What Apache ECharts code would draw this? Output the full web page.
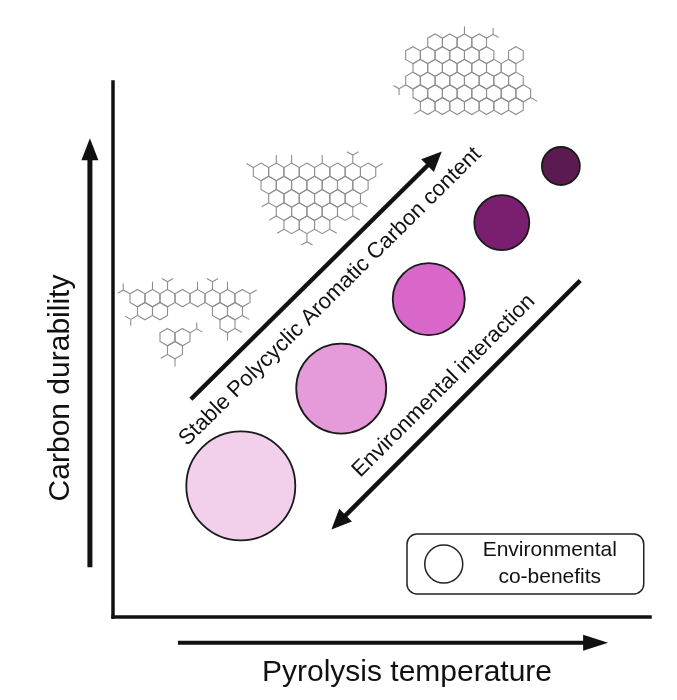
<!DOCTYPE html>
<html><head><meta charset="utf-8">
<script src="https://cdn.jsdelivr.net/npm/echarts@6/dist/echarts.min.js"></script>
<style>html,body{margin:0;padding:0;background:#fff}#c{width:677px;height:700px}</style>
</head><body><div id="c"></div>
<script>
// ---- data (relative units: pyrolysis temperature 0-100, carbon durability 0-100) ----
const stageNames = ['Low', 'Low-mid', 'Mid', 'Mid-high', 'High'];
const stageTemperature = [23.8, 42.5, 58.8, 72.4, 83.4];
const stageDurability = [24.5, 42.7, 59.4, 73.7, 84.3];
const stageCoBenefits = [109, 90, 72, 55, 38];
const pacArrow = [[14.5, 40.7], [59.9, 85.7]];
const envArrow = [[87.0, 62.9], [42.0, 17.7]];
const xAxisArrow = [[12.1, -4.8], [92.2, -4.8]];
const yAxisArrow = [[-4.3, 9.3], [-4.3, 89.5]];
const moleculeAnchors = [[4.56, 59.6], [27.56, 83.2], [54.5, 107.4]];
// rings as [column (half-ring steps), row]
const moleculeA = [[0,0],[2,0],[4,0],[6,0],[8,0],[10,0],[12,0],[14,0],[1,1],[3,1],[11,1],[13,1],[12,2],[4,3],[6,3],[5,4]];
const moleculeB = [[0,0],[2,0],[4,0],[6,0],[8,0],[10,0],[12,0],[14,0],
  [1,1],[3,1],[5,1],[7,1],[9,1],[11,1],[13,1],
  [2,2],[4,2],[6,2],[8,2],[10,2],[12,2],
  [3,3],[5,3],[7,3],[9,3],[11,3],
  [4,4],[6,4],[8,4]];
const moleculeC = [[4,0],[6,0],[8,0],[10,0],
  [1,1],[3,1],[5,1],[7,1],[9,1],[11,1],[15,1],
  [2,2],[4,2],[6,2],[8,2],[10,2],[12,2],[14,2],
  [1,3],[3,3],[5,3],[7,3],[9,3],[11,3],[13,3],[15,3],
  [2,4],[4,4],[6,4],[8,4],[10,4],[12,4],[14,4],[16,4],
  [3,5],[5,5],[7,5],[9,5],[11,5],[13,5],[15,5]];
// functional groups as [column, row, ring vertex (0 top .. 5 upper-left), kind (0 = OH stub, 1 = COOH fork)]
const groupsA = [[0,0,5,1],[2,0,0,0],[4,0,0,1],[8,0,0,0],[10,0,0,1],[12,0,0,0],[14,0,1,0],[1,1,4,1],[13,1,2,0],[12,2,2,0],[12,2,3,0],[6,3,1,1],[5,4,3,0],[5,4,4,0]];
const groupsB = [[0,0,5,0],[2,0,0,0],[4,0,0,0],[8,0,0,0],[12,0,0,1],[14,0,1,0],[2,2,4,0],[3,3,4,0],[4,4,4,0],[6,4,3,1],[12,2,2,0],[11,3,2,0],[8,4,2,0]];
const groupsC = [[10,0,1,1],[1,3,4,1],[16,4,2,0],[3,5,4,0],[8,0,0,0]];

// ---- styles ----
const stageColors = ['#f2d0ec', '#e59bd9', '#d867c9', '#7a1f70', '#5b1b50'];
const ringWidths = [15, 15.3, 14.7];
const RING_STROKE = '#8e8e8e';
const FONT = '"Liberation Sans", Arial, Helvetica, sans-serif';
const SERIES_NAME = 'Environmental co-benefits';

const ringData = [];
[moleculeA, moleculeB, moleculeC].forEach((m, i) => m.forEach(r => ringData.push([i, r[0], r[1]])));
const groupData = [];
[groupsA, groupsB, groupsC].forEach((g, i) => g.forEach(r => groupData.push([i, r[0], r[1], r[2], r[3]])));

const bubbleData = stageTemperature.map((x, i) => ({
  name: stageNames[i],
  value: [x, stageDurability[i], stageCoBenefits[i]],
  itemStyle: { color: stageColors[i] }
}));

function ringCenter(api, m, c, r) {
  const a = api.coord(moleculeAnchors[m]);
  const w = ringWidths[m], s = w / Math.sqrt(3);
  return { x: a[0] + c * w / 2, y: a[1] + r * 1.5 * s, s: s };
}

const chart = echarts.init(document.getElementById('c'), null, { renderer: 'canvas' });

chart.setOption({
  animation: false,
  backgroundColor: '#fff',
  textStyle: { fontFamily: FONT },
  grid: { left: 113, top: 82, right: 27, bottom: 83, outerBoundsMode: 'none' },
  xAxis: {
    type: 'value', min: 0, max: 100,
    name: 'Pyrolysis temperature', nameLocation: 'middle', nameGap: 41,
    nameTextStyle: { fontSize: 30, color: '#111', fontFamily: FONT, padding: [0, 0, 0, 51] },
    axisLine: { show: true, lineStyle: { color: '#111', width: 3.5, cap: 'square' } },
    axisTick: { show: false }, axisLabel: { show: false }, splitLine: { show: false }
  },
  yAxis: {
    type: 'value', min: 0, max: 100,
    name: 'Carbon durability', nameLocation: 'middle', nameGap: 37,
    nameTextStyle: { fontSize: 30, color: '#111', fontFamily: FONT, padding: [0, 77, 0, 0] },
    axisLine: { show: true, lineStyle: { color: '#111', width: 3.5, cap: 'square' } },
    axisTick: { show: false }, axisLabel: { show: false }, splitLine: { show: false }
  },
  legend: {
    left: 407, top: 534, selectedMode: false,
    padding: [6, 12, 6, 17],
    borderColor: '#222', borderWidth: 1.5, borderRadius: 10,
    itemWidth: 38, itemHeight: 38,
    data: [{ name: SERIES_NAME, icon: 'circle', itemStyle: { color: '#fff', borderColor: '#222', borderWidth: 1.5 } }],
    formatter: () => '{a|Environmental}\n{a|co-benefits}',
    textStyle: {
      rich: { a: { fontSize: 21, lineHeight: 27, width: 164, align: 'center', color: '#111', fontFamily: FONT } }
    }
  },
  series: [
    {
      type: 'custom', name: 'rings', silent: true, clip: false,
      data: ringData,
      renderItem: (params, api) => {
        const h = ringCenter(api, api.value(0), api.value(1), api.value(2));
        const pts = [];
        for (let k = 0; k < 6; k++) {
          const ang = (-90 + 60 * k) * Math.PI / 180;
          pts.push([h.x + h.s * Math.cos(ang), h.y + h.s * Math.sin(ang)]);
        }
        return { type: 'polygon', shape: { points: pts }, style: { fill: 'none', stroke: RING_STROKE, lineWidth: 1.1 } };
      }
    },
    {
      type: 'custom', name: 'groups', silent: true, clip: false,
      data: groupData,
      renderItem: (params, api) => {
        const h = ringCenter(api, api.value(0), api.value(1), api.value(2));
        const ang = (-90 + 60 * api.value(3)) * Math.PI / 180;
        const ux = Math.cos(ang), uy = Math.sin(ang);
        const vx = h.x + h.s * ux, vy = h.y + h.s * uy;
        const ex = vx + h.s * 0.9 * ux, ey = vy + h.s * 0.9 * uy;
        const st = { stroke: RING_STROKE, lineWidth: 1.1 };
        const children = [{ type: 'line', shape: { x1: vx, y1: vy, x2: ex, y2: ey }, style: st }];
        if (api.value(4) === 1) {
          [-1, 1].forEach(sg => {
            const b = ang + sg * Math.PI / 3;
            children.push({ type: 'line', shape: { x1: ex, y1: ey, x2: ex + h.s * 0.75 * Math.cos(b), y2: ey + h.s * 0.75 * Math.sin(b) }, style: st });
          });
        }
        return { type: 'group', children: children };
      }
    },
    {
      type: 'scatter', name: SERIES_NAME, clip: false,
      data: bubbleData,
      symbolSize: v => v[2],
      itemStyle: { borderColor: '#1a1a1a', borderWidth: 1.8, opacity: 1 },
      emphasis: { disabled: true },
      markLine: {
        silent: true, animation: false,
        symbol: ['none', 'triangle'], symbolSize: [18, 20],
        lineStyle: { color: '#111', width: 4.5, type: 'solid' },
        label: { show: true, fontSize: 22, color: '#111', fontFamily: FONT },
        data: [
          [{ coord: pacArrow[0], label: { formatter: 'Stable Polycyclic Aromatic Carbon content', position: 'insideMiddleBottom', distance: 14 } },
           { coord: pacArrow[1] }],
          [{ coord: envArrow[0], label: { formatter: 'Environmental interaction', position: 'insideMiddleTop', distance: 11 } },
           { coord: envArrow[1] }]
        ]
      }
    }
  ]
});

// axis direction arrows outside the plotting area, positioned through the chart's own scales
function arrowGraphic(p0, p1, width, headLen, headW) {
  const a = chart.convertToPixel({ gridIndex: 0 }, p0);
  const b = chart.convertToPixel({ gridIndex: 0 }, p1);
  const dx = b[0] - a[0], dy = b[1] - a[1], L = Math.hypot(dx, dy);
  const ux = dx / L, uy = dy / L, nx = -uy, ny = ux;
  const bx = b[0] - ux * headLen, by = b[1] - uy * headLen;
  return [
    { type: 'line', shape: { x1: a[0], y1: a[1], x2: bx + ux * 2, y2: by + uy * 2 }, style: { stroke: '#111', lineWidth: width } },
    { type: 'polygon', shape: { points: [[b[0], b[1]], [bx + nx * headW / 2, by + ny * headW / 2], [bx - nx * headW / 2, by - ny * headW / 2]] }, style: { fill: '#111' } }
  ];
}
chart.setOption({
  graphic: [].concat(arrowGraphic(xAxisArrow[0], xAxisArrow[1], 4, 25, 16), arrowGraphic(yAxisArrow[0], yAxisArrow[1], 5, 22, 17))
});
</script></body></html>
